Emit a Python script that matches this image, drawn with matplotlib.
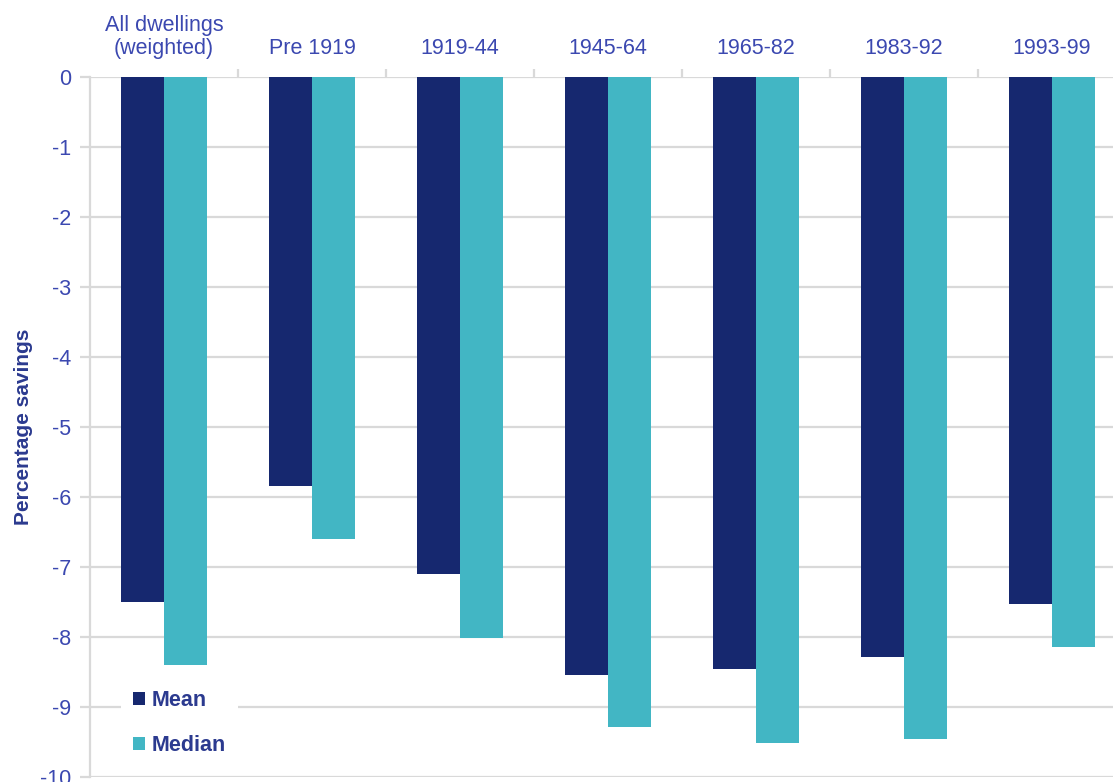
import numpy as np
import matplotlib.pyplot as plt
from matplotlib.ticker import FixedLocator

# percentage savings by dwelling age band
categories = ["All dwellings\n(weighted)", "Pre 1919", "1919-44", "1945-64",
              "1965-82", "1983-92", "1993-99"]
mean_vals = [-7.5, -5.84, -7.1, -8.54, -8.46, -8.28, -7.53]
median_vals = [-8.4, -6.6, -8.01, -9.28, -9.52, -9.46, -8.14]

navy = "#16286F"
teal = "#42B6C4"
txt = "#3B48B0"
grid_col = "#D9D9D9"

plt.rcParams['font.family'] = ['Liberation Sans', 'DejaVu Sans']
plt.rcParams['axes.unicode_minus'] = False

fig = plt.figure(figsize=(11.13, 7.82), dpi=100)
ax = fig.add_axes([90 / 1113, 5 / 782, 1036 / 1113, 700 / 782])

x = np.arange(len(categories)) + 0.5
w = 0.288
ax.bar(x - w / 2, mean_vals, w, color=navy, label="Mean", zorder=3)
ax.bar(x + w / 2, median_vals, w, color=teal, label="Median", zorder=3)

ax.set_xlim(0, len(categories))
ax.set_ylim(-10, 0)
ax.set_yticks(range(-10, 1))
ax.yaxis.grid(True, color=grid_col, linewidth=1.6, zorder=0)
ax.set_axisbelow(True)

for s in ["top", "right", "bottom"]:
    ax.spines[s].set_visible(False)
ax.spines["left"].set_color(grid_col)
ax.spines["left"].set_linewidth(1.6)

# category names along the top, small ticks between groups
ax.xaxis.tick_top()
ax.set_xticks(x)
ax.set_xticklabels(categories, fontsize=15.5, color=txt, linespacing=1.15)
ax.xaxis.set_minor_locator(FixedLocator(np.arange(1, len(categories))))
ax.tick_params(axis="x", which="major", length=0, pad=13)
ax.tick_params(axis="x", which="minor", length=6, width=1.6, color=grid_col)
ax.tick_params(axis="y", length=7, width=1.6, color=grid_col,
               labelsize=15.5, labelcolor=txt, pad=6.5)

ax.set_ylabel("Percentage savings", fontsize=15, fontweight="bold",
              color="#2B3A8F")
ax.yaxis.set_label_coords(-0.055, 0.5)

leg = ax.legend(loc="center left", bbox_to_anchor=(0.024, 0.077),
                frameon=True, facecolor="white", edgecolor="none",
                framealpha=1, fancybox=False, handlelength=0.55,
                handleheight=0.55, handletextpad=0.3, labelspacing=1.15,
                borderpad=0.55, borderaxespad=0.3,
                prop={"size": 15.5, "weight": "bold"})
for t in leg.get_texts():
    t.set_color("#2B3A8F")
leg.set_zorder(5)

fig.savefig("out.png", dpi=100)
